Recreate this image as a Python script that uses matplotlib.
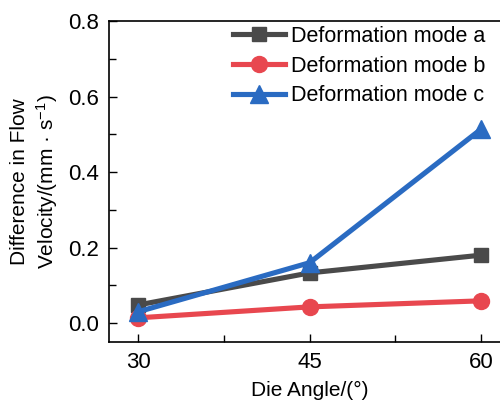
import matplotlib
matplotlib.use("Agg")
import matplotlib.pyplot as plt
from matplotlib.ticker import MultipleLocator

plt.rcParams["font.family"] = ["Liberation Sans", "DejaVu Sans"]
plt.rcParams["mathtext.default"] = "regular"

angles = [30, 45, 60]
mode_a = [0.048, 0.133, 0.180]
mode_b = [0.014, 0.043, 0.059]
mode_c = [0.030, 0.160, 0.514]

fig = plt.figure(figsize=(5, 4), dpi=100)
ax = fig.add_axes([0.218, 0.145, 0.804, 0.8025])

ax.plot(angles, mode_a, color="#4a4a4a", marker="s", markersize=10, linewidth=3.7,
        label="Deformation mode a", clip_on=False, zorder=3)
ax.plot(angles, mode_b, color="#e8474f", marker="o", markersize=11.5, linewidth=3.7,
        label="Deformation mode b", clip_on=False, zorder=3)
ax.plot(angles, mode_c, color="#2a6bc2", marker="^", markersize=13, linewidth=3.7,
        label="Deformation mode c", clip_on=False, zorder=4)

ax.set_xlim(27.46, 62.6)
ax.set_ylim(-0.05, 0.8)
ax.set_xticks(angles)
ax.xaxis.set_minor_locator(MultipleLocator(7.5))
ax.yaxis.set_major_locator(MultipleLocator(0.2))
ax.yaxis.set_minor_locator(MultipleLocator(0.1))
ax.yaxis.set_major_formatter(plt.FormatStrFormatter("%.1f"))

ax.tick_params(which="both", direction="in", width=1, labelsize=16)
ax.tick_params(which="major", length=6, pad=7)
ax.tick_params(which="minor", length=5)
for s in ax.spines.values():
    s.set_linewidth(1.2)

ax.set_xlabel("Die Angle/(°)", fontsize=15, labelpad=6)
ax.set_ylabel("Difference in Flow\nVelocity/(mm · s$^{-1}$)", fontsize=15,
              linespacing=1.25, labelpad=6)

ax.legend(loc="upper right", bbox_to_anchor=(0.985, 1.045), frameon=False,
          fontsize=15.5, handlelength=2.4, handletextpad=0.3, labelspacing=0.4)

fig.savefig("out.png", dpi=100)
